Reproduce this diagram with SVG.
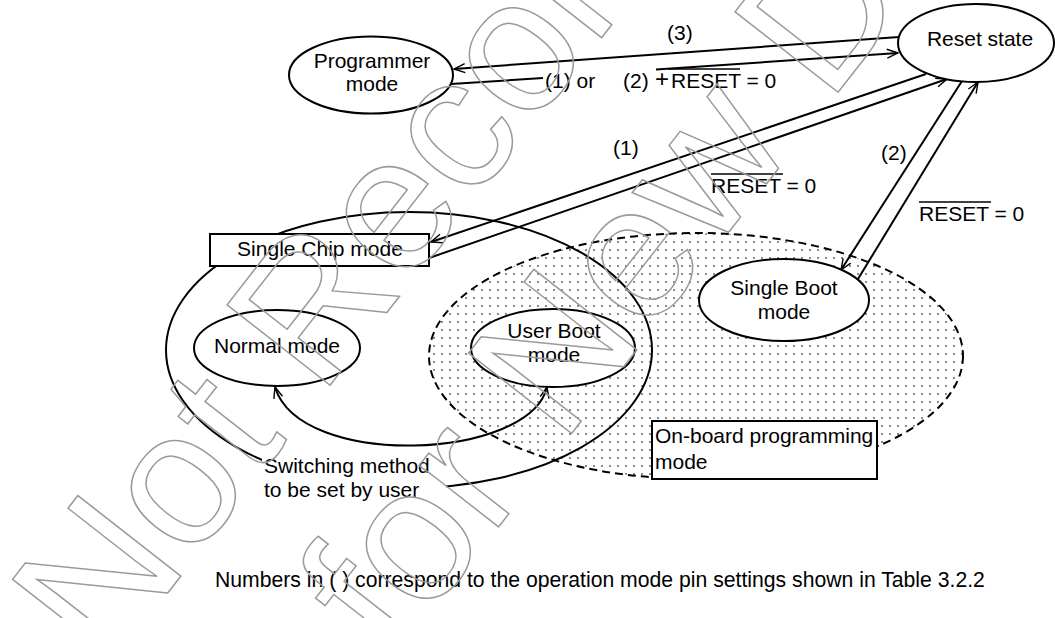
<svg xmlns="http://www.w3.org/2000/svg" width="1055" height="618" viewBox="0 0 1055 618">
<style>
text{font-family:"Liberation Sans",Arial,sans-serif;font-size:21px;fill:#000}
.ln{stroke:#000;stroke-width:2;fill:none}
.nd{stroke:#000;stroke-width:2;fill:#fff}
.ov{stroke:#000;stroke-width:1.5}
.wm{font-size:190px;fill:none;stroke:#9a9a9a;stroke-width:1.5}
.c{text-anchor:middle}
</style>
<defs>
<marker id="ah" markerWidth="14" markerHeight="12" refX="0" refY="0" viewBox="-12 -6 14 12" orient="auto" markerUnits="userSpaceOnUse">
<path d="M-11,-4.5 L0,0 L-11,4.5" fill="none" stroke="#000" stroke-width="1.4"/>
</marker>
<marker id="ahs" markerWidth="14" markerHeight="12" refX="0" refY="0" viewBox="-2 -6 14 12" orient="auto" markerUnits="userSpaceOnUse">
<path d="M11,-4.5 L0,0 L11,4.5" fill="none" stroke="#000" stroke-width="1.4"/>
</marker>
<pattern id="dots" width="8" height="8" patternUnits="userSpaceOnUse">
<circle cx="2" cy="2" r="0.9" fill="#555"/>
</pattern>
</defs>
<rect width="1055" height="618" fill="#fff"/>

<g id="onboard-region">
<ellipse cx="696" cy="356" rx="267" ry="123" fill="url(#dots)" stroke="#000" stroke-width="2" stroke-dasharray="8,5"/>
</g>

<g id="single-chip-loop">
<ellipse cx="409" cy="350" rx="243" ry="138" class="ln"/>
<rect x="262" y="455" width="184" height="48" fill="#fff"/>
</g>

<g id="connectors">
<line x1="899" y1="37" x2="454" y2="69" class="ln" marker-end="url(#ah)"/>
<line x1="451" y1="84" x2="543" y2="78" class="ln"/>
<line x1="656" y1="69.5" x2="898" y2="53" class="ln" marker-end="url(#ah)"/>
<line x1="926" y1="74" x2="431" y2="242" class="ln" marker-end="url(#ah)"/>
<line x1="429" y1="258" x2="947" y2="79" class="ln" marker-end="url(#ah)"/>
<line x1="962" y1="81" x2="841" y2="270" class="ln" marker-end="url(#ah)"/>
<line x1="858" y1="279" x2="978" y2="82" class="ln" marker-end="url(#ah)"/>
<path d="M275,387 C300,470 530,460 547,387" class="ln" marker-start="url(#ahs)" marker-end="url(#ah)"/>
</g>

<g id="programmer">
<ellipse cx="371" cy="75" rx="82" ry="38.5" class="nd"/>
<text x="372" y="68" class="c">Programmer</text>
<text x="372" y="91" class="c">mode</text>
</g>
<g id="reset">
<ellipse cx="976" cy="43" rx="78" ry="39" class="nd"/>
<text x="980" y="46" class="c">Reset state</text>
</g>
<g id="single-chip">
<rect x="210" y="234" width="219" height="32" class="nd"/>
<text x="320" y="256" class="c">Single Chip mode</text>
</g>
<g id="normal">
<ellipse cx="277" cy="348" rx="83" ry="38" class="nd"/>
<text x="277" y="353" class="c">Normal mode</text>
</g>
<g id="user-boot">
<ellipse cx="553" cy="348" rx="82" ry="39" class="nd"/>
<text x="554" y="338" class="c">User Boot</text>
<text x="554" y="362" class="c">mode</text>
</g>
<g id="single-boot">
<ellipse cx="784" cy="300" rx="85" ry="41" class="nd"/>
<text x="784" y="295" class="c">Single Boot</text>
<text x="784" y="319" class="c">mode</text>
</g>
<g id="onboard-label">
<rect x="652" y="421" width="225" height="58" class="nd"/>
<text x="655" y="443">On-board programming</text>
<text x="655" y="469">mode</text>
</g>

<g id="labels">
<text x="667" y="40">(3)</text>
<text x="545" y="88">(1) or</text>
<text x="623" y="88">(2)</text>
<text x="655" y="87" style="font-size:24px">+</text>
<text x="671" y="88">RESET = 0</text>
<line x1="668" y1="69" x2="740" y2="69" class="ov"/>
<text x="613" y="155">(1)</text>
<text x="711" y="193">RESET = 0</text>
<line x1="711" y1="174" x2="783" y2="174" class="ov"/>
<text x="881" y="160">(2)</text>
<text x="919" y="221">RESET = 0</text>
<line x1="919" y1="202" x2="991" y2="202" class="ov"/>
<text x="264" y="473">Switching method</text>
<text x="264" y="497">to be set by user</text>
<text x="215" y="587" style="font-size:21.2px">Numbers in ( ) correspond to the operation mode pin settings shown in Table 3.2.2</text>
</g>

<g id="watermark">
<text class="wm" transform="translate(106,672) rotate(-52)">Not Recommended</text>
<text class="wm" transform="translate(393,662) rotate(-52)">for New Design</text>
</g>
</svg>
